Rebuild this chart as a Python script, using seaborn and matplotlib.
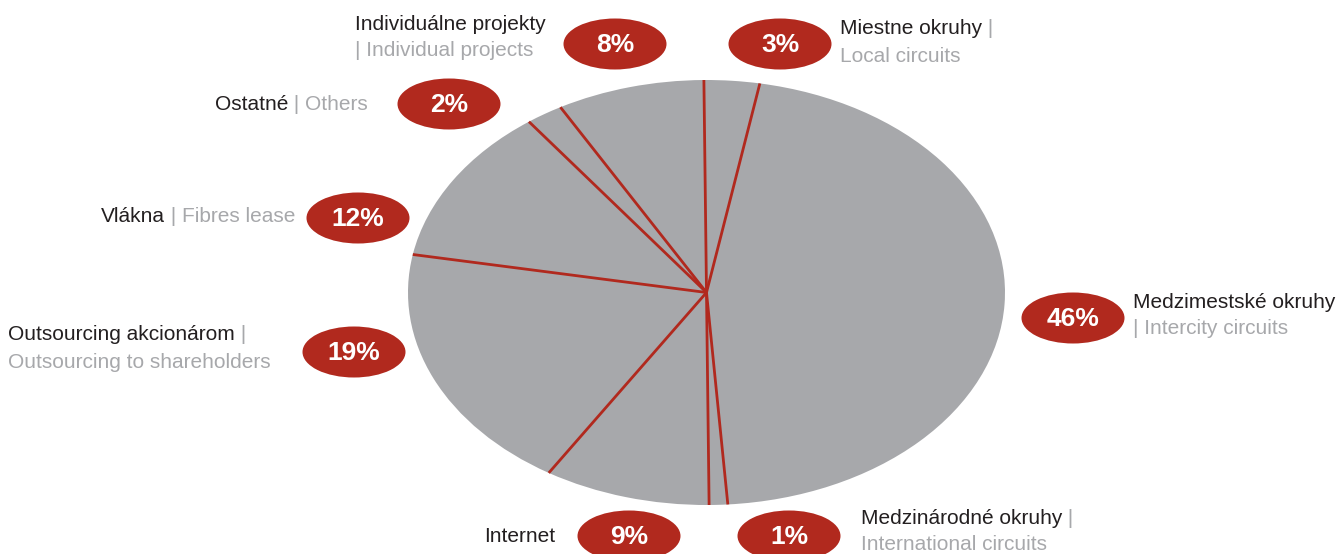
import numpy as np
import matplotlib
matplotlib.use("Agg")
import matplotlib.pyplot as plt
from matplotlib.patches import Ellipse
import seaborn as sns

# ---- data ----
labels_sk = ["Miestne okruhy", "Medzimestské okruhy", "Medzinárodné okruhy", "Internet",
             "Outsourcing akcionárom", "Vlákna", "Ostatné", "Individuálne projekty"]
labels_en = ["Local circuits", "Intercity circuits", "International circuits", "",
             "Outsourcing to shareholders", "Fibres lease", "Others", "Individual projects"]
values = [3, 46, 1, 9, 19, 12, 2, 8]

# ---- style ----
sns.set_theme(style="white")
plt.rcParams["font.family"] = ["Liberation Sans", "DejaVu Sans"]

PIE_GRAY = "#A7A8AB"
RED = "#B1291E"
TXT = "#231F20"
GRAY_TXT = "#A7A8AB"

W, H = 1341, 554
fig = plt.figure(figsize=(W / 100, H / 100), dpi=100)
fig.patch.set_facecolor("white")

# pie axes placed over the ellipse area
x0, x1, y0, y1 = 408, 1005, 80, 505
ax = fig.add_axes([x0 / W, (H - y1) / H, (x1 - x0) / W, (y1 - y0) / H])
wedges, _ = ax.pie(values, startangle=90.5, counterclock=False,
                   colors=[PIE_GRAY] * len(values),
                   wedgeprops=dict(linewidth=0))
ax.set_aspect("auto")
ax.set_xlim(-1, 1)
ax.set_ylim(-1, 1)
ax.axis("off")
# red separators along each wedge boundary
for w in wedges:
    cx, cy = w.center
    r = w.r
    th = np.deg2rad(w.theta1)
    ax.plot([cx, cx + r * np.cos(th)], [cy, cy + r * np.sin(th)],
            color=RED, lw=2, solid_capstyle="butt")

# overlay axes in pixel coords for labels
ov = fig.add_axes([0, 0, 1, 1])
ov.set_xlim(0, W)
ov.set_ylim(H, 0)
ov.axis("off")

FS = 15
PFS = 19

# badge positions (layout)
badge_pos = [(780, 44), (1073, 318), (789, 536), (629, 536),
             (354, 352), (358, 218), (449, 104), (615, 44)]
for v, (bx, by) in zip(values, badge_pos):
    ov.add_patch(Ellipse((bx, by), 103, 51, facecolor=RED, edgecolor="none"))
    ov.text(bx, by + 1, f"{v}%", color="white", fontsize=PFS, fontweight="bold",
            ha="center", va="center")


def left_line(x, y, parts):
    prev = None
    for s, c in parts:
        if prev is None:
            prev = ov.text(x, y, s, color=c, fontsize=FS, ha="left", va="center")
        else:
            prev = ov.annotate(s, xy=(1, 0), xycoords=prev, color=c, fontsize=FS,
                               ha="left", va="bottom")


def right_line(x, y, parts):
    prev = None
    for s, c in reversed(parts):
        if prev is None:
            prev = ov.text(x, y, s, color=c, fontsize=FS, ha="right", va="center")
        else:
            prev = ov.annotate(s, xy=(0, 0), xycoords=prev, color=c, fontsize=FS,
                               ha="right", va="bottom")


# Miestne okruhy
left_line(840, 29, [(labels_sk[0], TXT), (" |", GRAY_TXT)])
left_line(840, 56, [(labels_en[0], GRAY_TXT)])
# Medzimestské okruhy
left_line(1133, 302, [(labels_sk[1], TXT)])
left_line(1133, 329, [("| " + labels_en[1], GRAY_TXT)])
# Medzinárodné okruhy
left_line(861, 519, [(labels_sk[2], TXT), (" |", GRAY_TXT)])
left_line(861, 545, [(labels_en[2], GRAY_TXT)])
# Internet
right_line(555, 536, [(labels_sk[3], TXT)])
# Outsourcing
left_line(8, 335, [(labels_sk[4], TXT), (" |", GRAY_TXT)])
left_line(8, 362, [(labels_en[4], GRAY_TXT)])
# Vlákna
right_line(295, 216, [(labels_sk[5], TXT), (" | " + labels_en[5], GRAY_TXT)])
# Ostatné
right_line(368, 104, [(labels_sk[6], TXT), (" | " + labels_en[6], GRAY_TXT)])
# Individuálne projekty
left_line(355, 25, [(labels_sk[7], TXT)])
left_line(355, 51, [("| " + labels_en[7], GRAY_TXT)])

fig.savefig("out.png", dpi=100, facecolor="white")
